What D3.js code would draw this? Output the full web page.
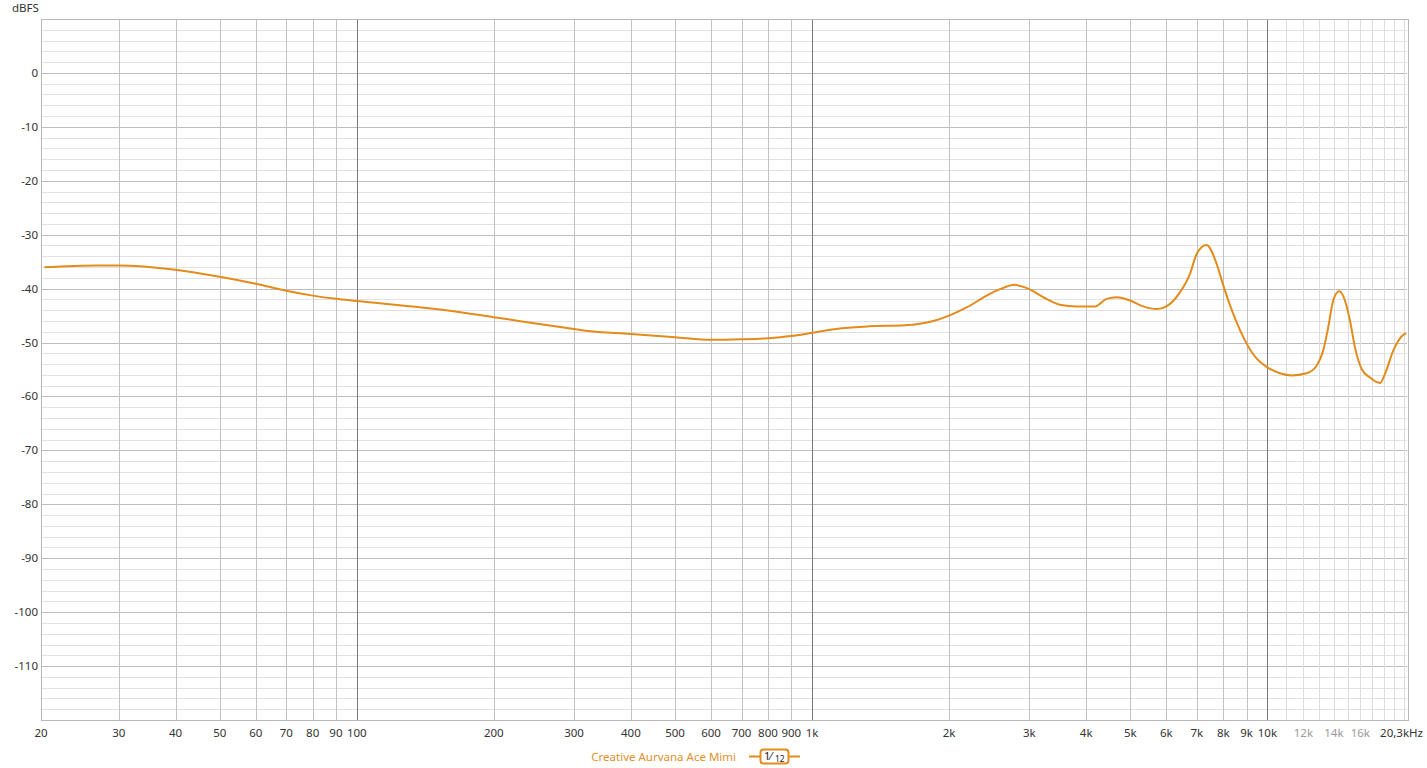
<!DOCTYPE html>
<html><head><meta charset="utf-8">
<script src="https://cdn.jsdelivr.net/npm/d3@7"></script>
<style>
html,body{margin:0;padding:0;background:#fff;}
svg{display:block;font-family:"Noto Sans","Open Sans",sans-serif;}
</style></head>
<body>
<svg id="chart" width="1427" height="768"></svg>
<script>
// ---- data ----
const freqHz = [20.6, 26.9, 30, 40, 50, 60, 70, 80, 90, 100, 160, 200, 300, 318, 400, 500, 600, 700, 800, 900,
  1000, 1150, 1330, 1600, 1846, 2000, 2185, 2418, 2586, 2790, 3000, 3220, 3503, 3812, 4182, 4437, 4668,
  4990, 5338, 5713, 6000, 6426, 6759, 7000, 7350, 7737, 8000, 8415, 9005, 9475, 10000, 10655, 11300, 12193,
  12827, 13261, 13601, 13950, 14378, 14802, 15182, 15572, 16107, 16798, 17670, 18124, 18901, 19950, 20200];
const levelDb = [-36.05, -35.7, -35.7, -36.5, -37.8, -39.1, -40.4, -41.3, -41.9, -42.3, -44.1, -45.3, -47.5, -47.8,
  -48.4, -49.0, -49.5, -49.4, -49.2, -48.8, -48.2, -47.4, -47.0, -46.8, -46.0, -45.0, -43.5, -41.3, -40.1,
  -39.3, -40.1, -41.6, -43.0, -43.3, -43.3, -41.9, -41.6, -42.2, -43.3, -43.8, -43.3, -40.7, -37.3, -33.5, -31.9,
  -35.4, -39.4, -44.7, -50.2, -53.0, -54.6, -55.7, -56.1, -55.7, -54.3, -51.5, -47.2, -42.2, -40.5, -42.2, -45.9,
  -50.9, -54.9, -56.5, -57.5, -55.8, -51.5, -48.5, -48.3];
const seriesName = "Creative Aurvana Ace Mimi";
const smoothing = ["1", "12"];
const xTickVals = [20, 30, 40, 50, 60, 70, 80, 90, 100, 200, 300, 400, 500, 600, 700, 800, 900, 1000,
  2000, 3000, 4000, 5000, 6000, 7000, 8000, 9000, 10000, 12000, 14000, 16000];
const xTickLabels = ["20", "30", "40", "50", "60", "70", "80", "90", "100", "200", "300", "400", "500", "600", "700",
  "800", "900", "1k", "2k", "3k", "4k", "5k", "6k", "7k", "8k", "9k", "10k", "12k", "14k", "16k"];
const xTickGray = [12000, 14000, 16000];
const endLabel = "20,3kHz";
const yTickVals = [0, -10, -20, -30, -40, -50, -60, -70, -80, -90, -100, -110];
const yUnit = "dBFS";

// ---- layout ----
const L = 40.5, R = 1407, T = 19, B = 720;
const x = d3.scaleLog().domain([20.2, 20260]).range([L, R]);
const y = d3.scaleLinear().domain([-120, 10]).range([B, T]);
const svg = d3.select("#chart");
const color = "#e38b1b";

const grid = svg.append("g").attr("shape-rendering", "crispEdges");
grid.selectAll("line.hmin").data(d3.range(-120, 11, 2)).enter().append("line")
  .attr("x1", L).attr("x2", R).attr("y1", d => Math.round(y(d)) + 0.5).attr("y2", d => Math.round(y(d)) + 0.5)
  .attr("stroke", d => d % 10 === 0 ? "#bdbdbd" : "#e2e2e2");
const vlines = [];
[10, 100, 1000].forEach(dec => { for (let k = 1; k <= 9; k++) { const f = dec * k; if (f > 20 && f <= 10000) vlines.push(f); } });
vlines.push(10000);
const fineHigh = d3.range(11000, 20001, 1000);
grid.selectAll("line.vfine").data(fineHigh).enter().append("line")
  .attr("x1", d => Math.round(x(d)) + 0.5).attr("x2", d => Math.round(x(d)) + 0.5).attr("y1", T).attr("y2", B)
  .attr("stroke", "#dddddd");
grid.selectAll("line.v").data(vlines).enter().append("line")
  .attr("x1", d => Math.round(x(d)) + 0.5).attr("x2", d => Math.round(x(d)) + 0.5).attr("y1", T).attr("y2", B)
  .attr("stroke", d => (d === 100 || d === 1000 || d === 10000) ? "#7a7a7a" : "#c2c2c2");
grid.append("rect").attr("x", Math.round(L) + 0.5).attr("y", T + 0.5).attr("width", Math.round(R - L)).attr("height", B - T)
  .attr("fill", "none").attr("stroke", "#b8b8b8");

// y labels
svg.selectAll("text.yt").data(yTickVals).enter().append("text")
  .attr("x", 38).attr("y", d => y(d) + 4).attr("text-anchor", "end")
  .attr("font-size", 11.5).attr("fill", "#333").text(d => d);
svg.append("text").attr("x", 12).attr("y", 12).attr("font-size", 11.5).attr("fill", "#333").text(yUnit);

// x labels
svg.selectAll("text.xt").data(xTickVals).enter().append("text")
  .attr("x", d => Math.max(x(d), L + 0.5)).attr("y", 737).attr("text-anchor", "middle")
  .attr("font-size", 11.5).attr("fill", d => xTickGray.includes(d) ? "#9a9a9a" : "#333")
  .text((d, i) => xTickLabels[i]);
svg.append("text").attr("x", 1423).attr("y", 737).attr("text-anchor", "end")
  .attr("font-size", 11.5).attr("fill", "#333").text(endLabel);

// curve
const line = d3.line().x(d => x(d[0])).y(d => y(d[1])).curve(d3.curveMonotoneX);
svg.append("path").datum(freqHz.map((f, i) => [f, levelDb[i]]))
  .attr("d", line).attr("fill", "none").attr("stroke", color).attr("stroke-width", 2)
  .attr("stroke-linejoin", "round");

// legend
const lg = svg.append("g");
lg.append("text").attr("x", 736).attr("y", 761).attr("text-anchor", "end")
  .attr("font-size", 11.5).attr("fill", "#e3901f").text(seriesName);
lg.append("line").attr("x1", 749).attr("x2", 800).attr("y1", 756.5).attr("y2", 756.5)
  .attr("stroke", color).attr("stroke-width", 2);
lg.append("rect").attr("x", 760.5).attr("y", 749.5).attr("width", 28).attr("height", 14).attr("rx", 3)
  .attr("fill", "#fff").attr("stroke", color).attr("stroke-width", 2);
lg.append("text").attr("x", 764).attr("y", 760).attr("font-size", 11).attr("fill", "#222").text(smoothing[0] + "\u2044");
lg.append("text").attr("x", 775).attr("y", 762).attr("font-size", 8.5).attr("fill", "#222").text(smoothing[1]);
</script>
</body></html>
